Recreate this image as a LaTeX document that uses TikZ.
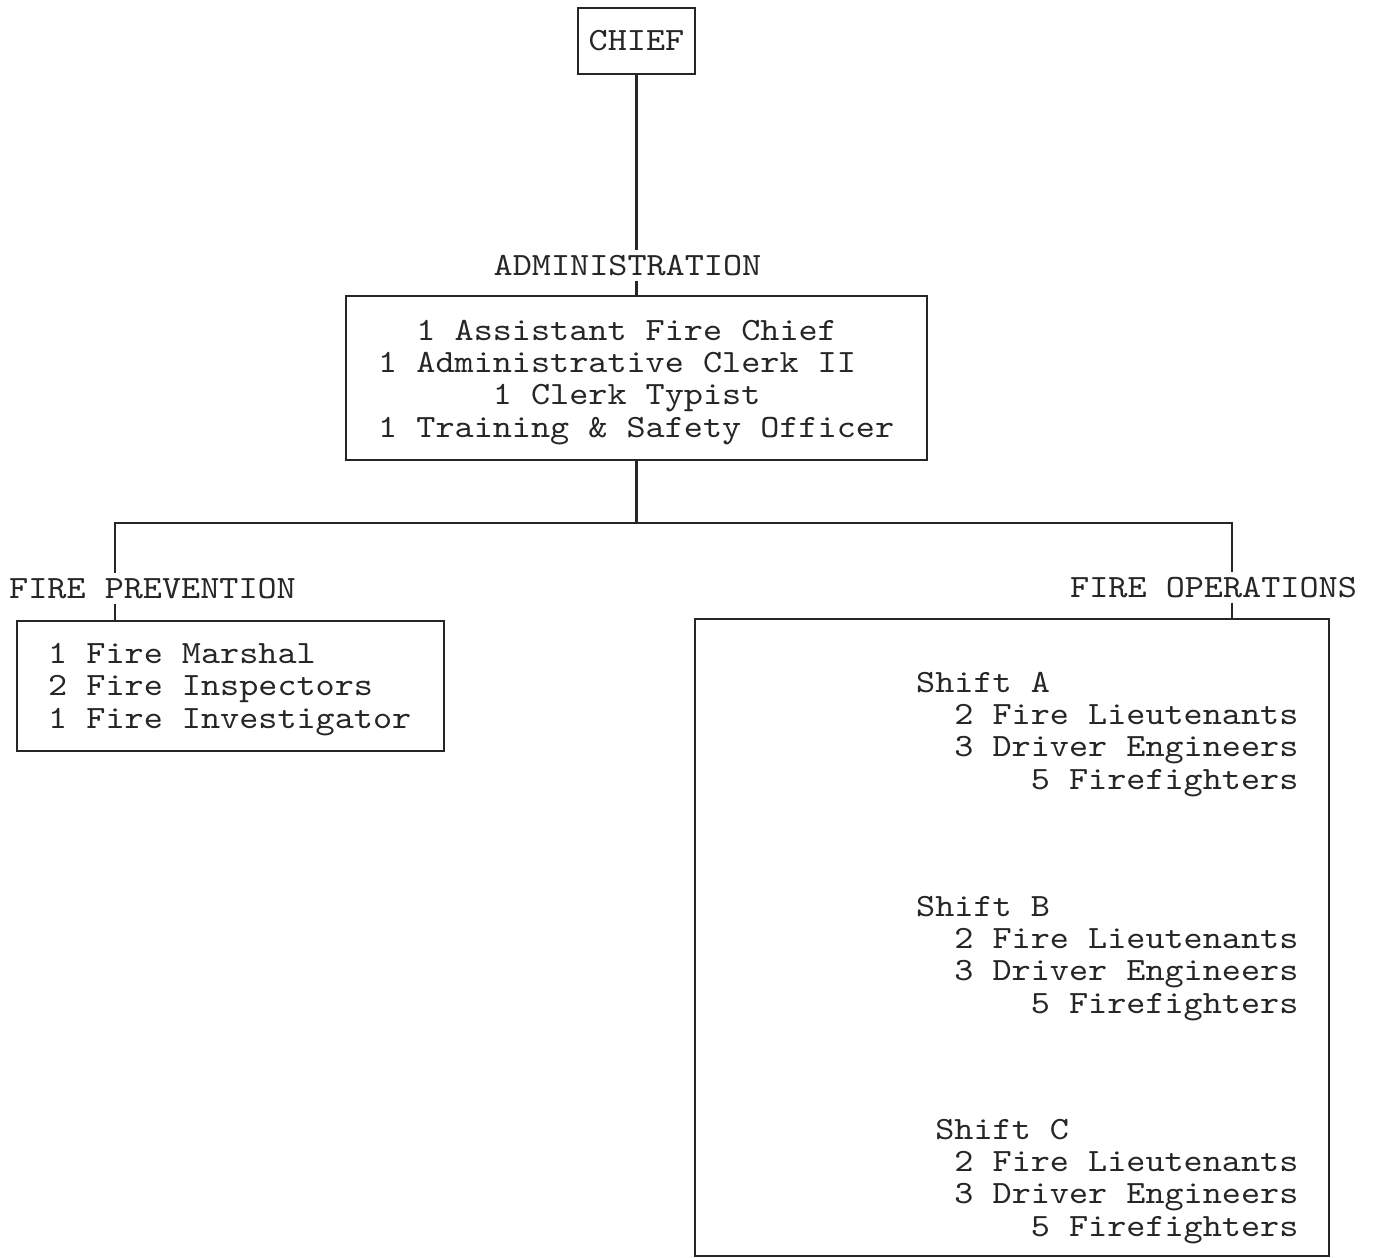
\documentclass[tikz,border=0pt]{standalone}
\usepackage{fontspec}
\newfontfamily\courfont[FakeStretch=1.12]{lmmono10-regular.otf}
\begin{document}
\begin{tikzpicture}[x=1pt,y=-1pt,
  ln/.style={line width=2.4pt, draw=black!85},
  box/.style={ln, rectangle, inner sep=0pt},
  fnt/.style={font=\fontsize{32.5}{32.2}\selectfont\courfont, text=black!85},
  txt/.style={fnt, inner sep=0pt, align=left},
  lbl/.style={fnt, inner xsep=0pt, inner ysep=5pt}
]
\useasboundingbox (0,0) rectangle (1374,1258);

% boxes
\node[box, fnt, minimum width=117pt, minimum height=66pt] (chief) at (636.5,41) {CHIEF};
\node[box, minimum width=581pt, minimum height=164pt] (admin) at (636.5,378) {};
\node[box, minimum width=427pt, minimum height=130pt] (prev) at (230.5,686) {};
\node[box, minimum width=634pt, minimum height=637pt] (ops) at (1012,937.5) {};

% labels
\node[lbl, anchor=base] (adminlbl) at (627.5,275) {ADMINISTRATION};
\node[lbl, anchor=base west] (prevlbl) at (9,598) {FIRE PREVENTION};
\node[lbl, anchor=base west] (opslbl) at (1070,597) {FIRE OPERATIONS};

% texts (base anchor = baseline of the last line)
\node[txt, anchor=base west] (admintext) at (378,437)
  {\phantom{00}1 Assistant Fire Chief\\1 Administrative Clerk II\\\phantom{000000}1 Clerk Typist\\1 Training \& Safety Officer};
\node[txt, anchor=base west] (prevtext) at (48,728)
  {1 Fire Marshal\\2 Fire Inspectors\\1 Fire Investigator};
\node[txt, anchor=base west] (shiftA) at (916,789)
  {Shift A\\\phantom{00}2 Fire Lieutenants\\\phantom{00}3 Driver Engineers\\\phantom{000000}5 Firefighters};
\node[txt, anchor=base west] (shiftB) at (916,1013)
  {Shift B\\\phantom{00}2 Fire Lieutenants\\\phantom{00}3 Driver Engineers\\\phantom{000000}5 Firefighters};
\node[txt, anchor=base west] (shiftC) at (916,1236)
  {\phantom{0}Shift C\\\phantom{00}2 Fire Lieutenants\\\phantom{00}3 Driver Engineers\\\phantom{000000}5 Firefighters};

% connectors
\coordinate (bar) at (636.5,523);
\coordinate (lj) at (115,523);
\coordinate (rj) at (1232,523);
\draw[ln] (chief.south) -- (chief.south |- adminlbl.north);
\draw[ln] (chief.south |- adminlbl.south) -- (chief.south |- admin.north);
\draw[ln] (admin.south) -- (bar);
\draw[ln] (lj |- prevlbl.north) -- (lj) -- (rj) -- (rj |- opslbl.north);
\draw[ln] (lj |- prevlbl.south) -- (lj |- prev.north);
\draw[ln] (rj |- opslbl.south) -- (rj |- ops.north);
\end{tikzpicture}
\end{document}
